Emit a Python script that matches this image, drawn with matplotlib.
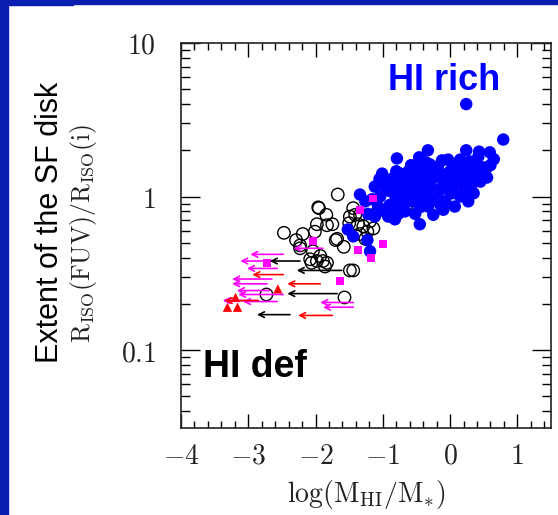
import numpy as np
import matplotlib
matplotlib.use("Agg")
import matplotlib.pyplot as plt
from matplotlib.patches import Rectangle
from matplotlib.ticker import FixedLocator, MultipleLocator, LogLocator, FuncFormatter, NullFormatter

plt.rcParams["mathtext.fontset"] = "cm"

# HI-normal galaxies (filled blue)
blue_x = [0.24, 0.79, -0.33, -0.79, -0.46, 0.24, 0.43, 0.59, -0.12, -0.03, -0.36, -0.80, -0.49,
          -0.27, 0.25, 0.40, 0.55, 0.10, 0.0, 0.55, -0.70, 0.25, 0.27, -0.45, -1.34, -1.52, -0.82,
          -1.44, -1.23, -1.19, -0.15, -0.85, -0.67, 0.42, 0.04,
          -1.12, -1.04, -0.97, -0.89, -0.82, -0.74, -0.67, -0.59, -0.57, -0.48, -0.42, -0.37, -0.30,
          -0.22, -0.18, -0.10, -0.04, 0.03, 0.12, 0.18, 0.22, 0.30, 0.36, 0.45, 0.51, -1.07, -0.97,
          -1.16, -1.01, -0.86, -0.74, -0.62, -0.52, -0.33, -0.25, -0.07, 0.07, 0.15, -1.12, -1.22,
          -1.26, -0.92, -0.77, -0.37, -0.18, 0.03, 0.30, 0.15, -0.62,
          -0.95, -0.85, -0.78, -0.70, -0.63, -0.55, -0.50, -0.44, -0.40, -0.33, -0.28, -0.24,
          -0.15, -0.13, -0.06, -0.02, 0.06, 0.09, 0.14, 0.20, 0.26, 0.33, 0.40, 0.48, -1.05,
          -0.90, -0.72, -0.45, -0.10, 0.35, 0.60, 0.65, -0.58, -0.30, 0.05]
blue_y = [4.0, 2.35, 2.0, 1.77, 1.80, 2.0, 1.96, 1.94, 1.72, 1.74, 1.67, 1.46, 1.52,
          1.48, 1.64, 1.57, 1.55, 1.52, 1.46, 1.33, 1.35, 1.16, 0.93, 0.66, 1.03, 0.61, 0.71,
          0.55, 0.52, 0.44, 0.89, 0.84, 0.80, 1.82, 1.13,
          1.16, 1.0, 1.25, 1.08, 0.93, 1.16, 1.0, 1.25, 0.93, 1.08, 1.29, 1.0, 1.16,
          1.35, 1.0, 1.22, 1.41, 1.05, 1.29, 1.46, 1.08, 1.35, 1.50, 1.25, 1.46, 0.86, 0.80,
          0.96, 1.41, 1.31, 1.41, 1.46, 0.77, 0.86, 0.76, 0.93, 0.86, 1.0, 0.74, 0.77,
          0.93, 0.74, 0.77, 1.41, 1.57, 1.64, 1.69, 1.74, 1.11,
          1.12, 1.18, 1.05, 1.22, 1.02, 1.15, 1.33, 0.97, 1.20, 1.10, 1.28, 0.95,
          1.12, 1.38, 1.30, 1.10, 1.18, 1.40, 1.22, 1.30, 1.45, 1.22, 1.40, 1.55, 1.30,
          0.88, 0.90, 0.85, 0.82, 1.05, 1.60, 1.75, 1.60, 1.62, 1.55]

# HI-deficient galaxies (open circles)
open_x = [-1.67, -0.92, -0.64, -1.96, -1.84, -1.98, -1.75, -1.83, -2.47, -2.19, -2.29, -2.23,
          -2.01, -1.70, -1.58, -1.49, -1.41, -1.50, -1.37, -1.29, -1.19, -1.14, -1.23, -1.34,
          -1.26, -1.12, -1.22, -2.04, -2.08, -1.93, -2.23, -1.98, -1.89, -1.86, -1.83, -2.06,
          -1.49, -1.44, -2.73, -1.57, -1.95, -1.44, -1.34, -1.68]
open_y = [1.03, 1.22, 0.89, 0.85, 0.76, 0.66, 0.66, 0.65, 0.58, 0.57, 0.52, 0.48,
          0.59, 0.52, 0.47, 0.74, 0.76, 0.67, 0.66, 0.64, 0.69, 0.62, 0.59, 0.57,
          0.53, 0.76, 0.89, 0.44, 0.39, 0.41, 0.46, 0.38, 0.38, 0.35, 0.37, 0.37,
          0.33, 0.33, 0.23, 0.22, 0.84, 0.84, 0.76, 0.53]

sq_x = [-1.14, -1.34, -2.04, -2.72, -1.64, -1.37, -1.17, -1.00]
sq_y = [0.97, 0.82, 0.51, 0.37, 0.28, 0.45, 0.40, 0.49]

tri_x = [-3.19, -2.56, -3.31, -3.16]
tri_y = [0.22, 0.25, 0.19, 0.19]

# upper limits in HI: (limit, arrow tip, ratio)
mag_from = [-2.48, -2.65, -2.57, -2.65, -2.72, -2.68, -2.48, -2.87, -2.57, -1.44, -1.44, -1.89]
mag_to = [-2.97, -3.12, -3.02, -3.24, -3.24, -3.17, -3.15, -3.38, -3.08, -1.93, -1.89, -2.33]
mag_y = [0.42, 0.38, 0.34, 0.29, 0.27, 0.244, 0.23, 0.21, 0.207, 0.204, 0.19, 0.46]

red_from = [-2.48, -1.93, -1.75, -2.85]
red_to = [-2.94, -2.42, -2.26, -3.35]
red_y = [0.31, 0.27, 0.168, 0.21]

blk_from = [-2.23, -1.61, -1.68, -2.38]
blk_to = [-2.68, -2.28, -2.42, -2.87]
blk_y = [0.38, 0.33, 0.233, 0.17]

fig = plt.figure(figsize=(5.58, 5.15), dpi=100)
fig.patch.set_facecolor("white")
bg = "#0a1eb2"
fig.patches.append(Rectangle((0, 0), 8 / 558, 1, transform=fig.transFigure, color=bg, zorder=0))
fig.patches.append(Rectangle((0, 1 - 4 / 515), 1, 4 / 515, transform=fig.transFigure, color=bg, zorder=0))
fig.patches.append(Rectangle((0, 1 - 5 / 515), 73 / 558, 5 / 515, transform=fig.transFigure, color=bg, zorder=0))

ax = fig.add_axes([181 / 558, 1 - 428 / 515, 370 / 558, 385 / 515])
ax.set_yscale("log")
ax.set_xlim(-4, 1.5)
ax.set_ylim(10 ** -1.508, 10)

ax.scatter(open_x, open_y, s=80, facecolors="none", edgecolors="black", linewidths=1.0, zorder=2)
ax.scatter(blue_x, blue_y, s=80, color="#0000ff", edgecolors="none", zorder=3)
ax.scatter(sq_x, sq_y, s=32, marker="s", color="#ff00ff", edgecolors="none", zorder=4)
ax.scatter(tri_x, tri_y, s=45, marker="^", color="#ff0000", edgecolors="none", zorder=4)

for xs, xe, yy, c in [(mag_from, mag_to, mag_y, "#ff00ff"),
                      (red_from, red_to, red_y, "#ff0000"),
                      (blk_from, blk_to, blk_y, "black")]:
    for a, b, v in zip(xs, xe, yy):
        ax.annotate("", xy=(b, v), xytext=(a, v),
                    arrowprops=dict(arrowstyle="->", color=c, lw=1.2,
                                    shrinkA=0, shrinkB=0, mutation_scale=10),
                    zorder=5)

ax.xaxis.set_major_locator(FixedLocator([-4, -3, -2, -1, 0, 1]))
ax.xaxis.set_minor_locator(MultipleLocator(0.2))
ax.xaxis.set_major_formatter(FuncFormatter(lambda v, p: r"$%d$" % round(v)))
ax.yaxis.set_major_locator(FixedLocator([0.1, 1, 10]))
ax.yaxis.set_minor_locator(LogLocator(base=10, subs=np.arange(2, 10), numticks=20))
ax.yaxis.set_major_formatter(FuncFormatter(lambda v, p: r"$%g$" % v))
ax.yaxis.set_minor_formatter(NullFormatter())

ax.tick_params(which="both", direction="in", top=True, right=True, width=1.0, color="black",
               labelcolor="#222222")
ax.tick_params(axis="x", which="major", length=10, labelsize=20, pad=10)
ax.tick_params(axis="x", which="minor", length=5)
ax.tick_params(axis="y", which="major", length=14, labelsize=20, pad=18)
ax.tick_params(axis="y", which="minor", length=6.5)
for s in ax.spines.values():
    s.set_linewidth(1.2)
    s.set_color("#222222")

ax.set_xlabel(r"$\mathrm{log(M_{HI}/M_{*})}$", fontsize=20, color="#222222", labelpad=6)
ax.set_ylabel(r"$\mathrm{R_{ISO}(FUV)/R_{ISO}(i)}$", fontsize=18.5, color="#222222")
ax.yaxis.set_label_coords(-0.222, 0.505)

ax.text(0.862, 0.878, "HI rich", transform=ax.transAxes, ha="right", va="baseline",
        fontsize=26, fontweight="bold", color="#0000ff", family="Liberation Sans")
ax.text(0.059, 0.132, "HI def", transform=ax.transAxes, ha="left", va="baseline",
        fontsize=27, fontweight="bold", color="black", family="Liberation Sans")

fig.text(50 / 558, 1 - 222 / 515, "Extent of the SF disk", rotation=90, ha="center", va="center",
         fontsize=22, family="Liberation Sans", color="black")

fig.savefig("out.png", dpi=100)
